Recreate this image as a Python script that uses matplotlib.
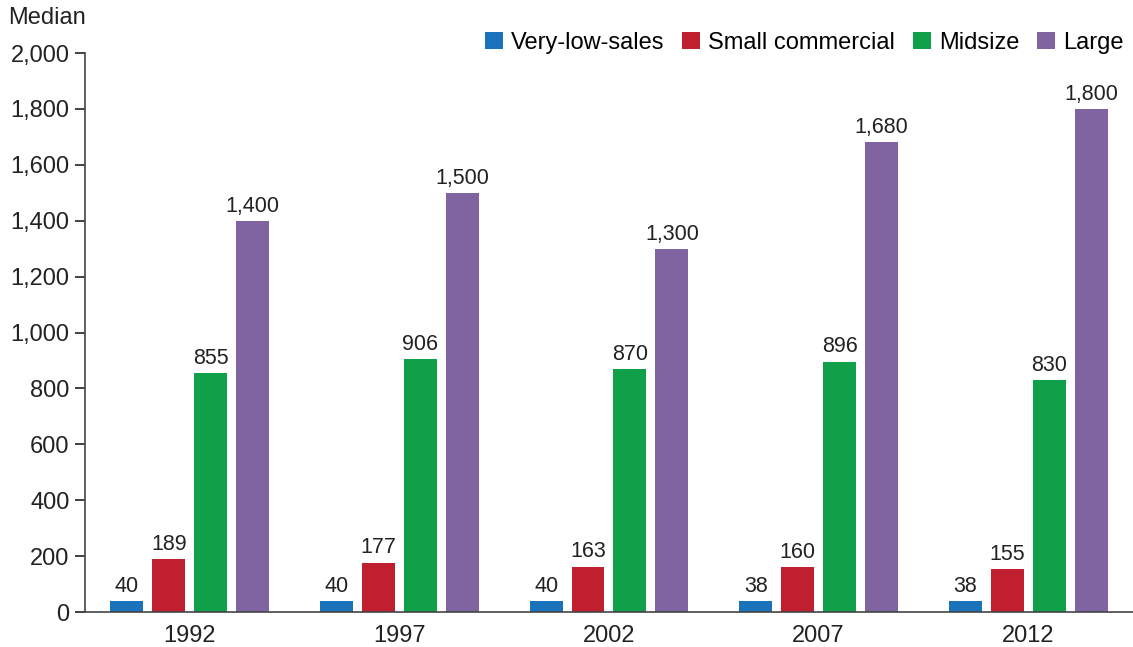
import numpy as np
import matplotlib.pyplot as plt
from matplotlib.ticker import FuncFormatter

years = ["1992", "1997", "2002", "2007", "2012"]
series = ["Very-low-sales", "Small commercial", "Midsize", "Large"]
very_low = [40, 40, 40, 38, 38]
small = [189, 177, 163, 160, 155]
midsize = [855, 906, 870, 896, 830]
large = [1400, 1500, 1300, 1680, 1800]
colors = ["#1a72bb", "#c01f2f", "#10a049", "#8064a2"]

plt.rcParams["font.family"] = ["Liberation Sans", "DejaVu Sans"]


def main():
    fig = plt.figure(figsize=(11.33, 6.47), dpi=100)
    ax = fig.add_axes([0.075, 0.054, 0.925, 0.864])

    x = np.arange(len(years))
    width = 0.157
    offsets = [-0.3, -0.1, 0.1, 0.3]
    for vals, name, col, off in zip([very_low, small, midsize, large], series, colors, offsets):
        bars = ax.bar(x + off, vals, width, color=col, label=name)
        for b, v in zip(bars, vals):
            ax.text(b.get_x() + b.get_width() / 2, v + 15, f"{v:,}",
                    ha="center", va="bottom", fontsize=15.5, color="#222222")

    ax.set_xlim(-0.5, 4.5)
    ax.set_ylim(0, 2000)
    ax.set_yticks(range(0, 2001, 200))
    ax.yaxis.set_major_formatter(FuncFormatter(lambda v, p: f"{int(v):,}"))
    ax.set_xticks(x)
    ax.set_xticklabels(years)
    ax.tick_params(axis="x", length=0, labelsize=17, pad=9, colors="#222222")
    ax.tick_params(axis="y", length=7, width=1.2, labelsize=17, pad=4,
                   colors="#222222")
    for s in ["top", "right"]:
        ax.spines[s].set_visible(False)
    ax.spines["left"].set_linewidth(1.2)
    ax.spines["bottom"].set_linewidth(1.2)
    ax.spines["left"].set_color("#444444")
    ax.spines["bottom"].set_color("#444444")

    fig.text(0.007, 0.972, "Median", fontsize=17, va="center", color="#222222")
    fig.legend(loc="center right", bbox_to_anchor=(1.0, 0.934), ncol=4,
               frameon=False, fontsize=17, handlelength=0.75, handleheight=0.75,
               handletextpad=0.35, columnspacing=0.75, borderaxespad=0)

    fig.savefig("out.png", dpi=100)


if __name__ == "__main__":
    main()
